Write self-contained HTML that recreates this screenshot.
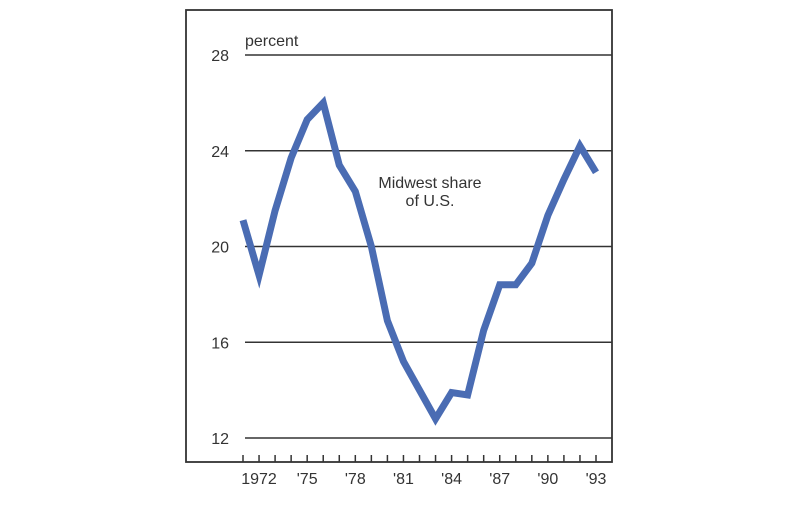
<!DOCTYPE html>
<html><head><meta charset="utf-8"><style>
body{margin:0;background:#fff;width:800px;height:500px;overflow:hidden}
svg text{font-family:"Liberation Sans",sans-serif;fill:#333}
</style></head><body>
<svg id="chart" width="800" height="500" xmlns="http://www.w3.org/2000/svg">
<rect x="186" y="10" width="426" height="452" fill="none" stroke="#333" stroke-width="1.8"/>
<g id="grid"></g><g id="xaxis"></g>
<text x="245" y="46" font-size="16">percent</text>
<text x="430" y="188" font-size="16" text-anchor="middle">Midwest share</text>
<text x="430" y="206" font-size="16" text-anchor="middle">of U.S.</text>
<path id="line" fill="none" stroke="#4a6cb3" stroke-width="7" stroke-linejoin="miter"/>
</svg>
<script>
const years=[1971,1972,1973,1974,1975,1976,1977,1978,1979,1980,1981,1982,1983,1984,1985,1986,1987,1988,1989,1990,1991,1992,1993];
const shares=[21.1,18.8,21.5,23.7,25.3,26.0,23.4,22.3,20.0,16.9,15.2,14.0,12.8,13.9,13.8,16.5,18.4,18.4,19.3,21.3,22.8,24.2,23.1];
const yTicks=[12,16,20,24,28];
const xLabelYears=[1972,1975,1978,1981,1984,1987,1990,1993];
const xLabels=["1972","'75","'78","'81","'84","'87","'90","'93"];
const NS="http://www.w3.org/2000/svg";
const x=yr=>243+(yr-1971)*(596-243)/22;
const y=v=>438-(v-12)*(438-55)/16;
const grid=document.getElementById('grid'),xa=document.getElementById('xaxis');
yTicks.forEach(t=>{
 const l=document.createElementNS(NS,'line');
 
 
 l.setAttribute('x1',245);l.setAttribute('x2',612);l.setAttribute('y1',y(t));l.setAttribute('y2',y(t));
 l.setAttribute('stroke','#333');l.setAttribute('stroke-width','1.6');grid.appendChild(l);
 const tx=document.createElementNS(NS,'text');
 
 
 tx.setAttribute('x',229);tx.setAttribute('y',y(t)+6);tx.setAttribute('text-anchor','end');tx.setAttribute('font-size','16');
 tx.textContent=t;grid.appendChild(tx);
});
years.forEach(yr=>{
 const l=document.createElementNS(NS,'line');
 
 
 l.setAttribute('x1',x(yr));l.setAttribute('x2',x(yr));l.setAttribute('y1',455);l.setAttribute('y2',462);
 l.setAttribute('stroke','#333');l.setAttribute('stroke-width','1.5');xa.appendChild(l);
});
xLabelYears.forEach((yr,i)=>{
 const tx=document.createElementNS(NS,'text');
 
 
 tx.setAttribute('x',x(yr));tx.setAttribute('y',484);tx.setAttribute('text-anchor','middle');tx.setAttribute('font-size','16');
 tx.textContent=xLabels[i];xa.appendChild(tx);
});
document.getElementById('line').setAttribute('d',years.map((yr,i)=>(i?'L':'M')+x(yr)+','+y(shares[i])).join(' '));
</script>
</body></html>
